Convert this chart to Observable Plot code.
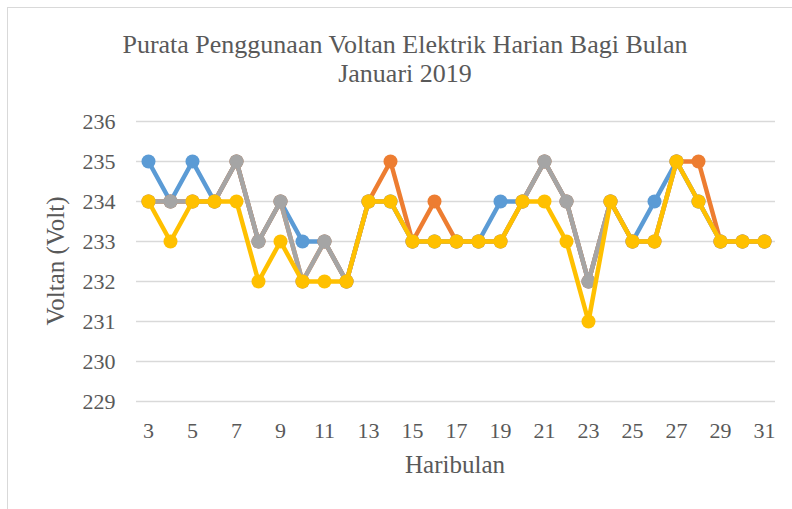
<!DOCTYPE html>
<html>
<head>
<meta charset="utf-8">
<script src="https://cdn.jsdelivr.net/npm/d3@7"></script>
<script src="https://cdn.jsdelivr.net/npm/@observablehq/plot@0.6"></script>
<style>
  html, body { margin: 0; padding: 0; background: #fff; }
  #wrap { position: relative; width: 792px; height: 509px; overflow: hidden; font-family: "Liberation Serif", "Tinos", "DejaVu Serif", "Times New Roman", serif; color: #595959; }
  #frame { position: absolute; left: 7px; top: 7px; width: 800px; height: 520px; border-left: 1.5px solid #d9d9d9; border-top: 1.5px solid #d9d9d9; }
  .t { position: absolute; white-space: nowrap; text-align: center; line-height: 30px; height: 30px; }
  #chart { position: absolute; left: 0; top: 0; }
  #chart svg text { font-family: "Liberation Serif", "Tinos", "DejaVu Serif", "Times New Roman", serif; }
</style>
</head>
<body>
<div id="wrap">
  <div id="frame"></div>
  <div id="chart"></div>
  <div class="t" id="title1" style="left:0;width:810px;top:30px;font-size:26px;">Purata Penggunaan Voltan Elektrik Harian Bagi Bulan</div>
  <div class="t" id="title2" style="left:0;width:810px;top:59px;font-size:26px;">Januari 2019</div>
  <div class="t" id="xtitle" style="left:355px;width:200px;top:450px;font-size:25px;">Haribulan</div>
  <div class="t" id="ytitle" style="left:-44px;width:200px;top:246px;font-size:25px;transform:rotate(-90deg);">Voltan (Volt)</div>
</div>
<script>
const days = [3,4,5,6,7,8,9,10,11,12,13,14,15,16,17,18,19,20,21,22,23,24,25,26,27,28,29,30,31];
const xTickLabels = [3,5,7,9,11,13,15,17,19,21,23,25,27,29,31];
const yTicks = [229,230,231,232,233,234,235,236];

const blue   = [235,234,235,234,235,233,234,233,233,232,234,234,233,233,233,233,234,234,235,234,232,234,233,234,235,234,233,233,233];
const orange = [234,234,234,234,235,233,234,232,233,232,234,235,233,234,233,233,233,234,235,234,232,234,233,233,235,235,233,233,233];
const gray   = [234,234,234,234,235,233,234,232,233,232,234,234,233,233,233,233,233,234,235,234,232,234,233,233,235,234,233,233,233];
const yellow = [234,233,234,234,234,232,233,232,232,232,234,234,233,233,233,233,233,234,234,233,231,234,233,233,235,234,233,233,233];

const seriesValues = [blue, orange, gray, yellow];
const seriesColors = ["#5B9BD5","#ED7D31","#A5A5A5","#FFC000"];

const marks = [
  Plot.gridY(yTicks, {stroke: "#d9d9d9", strokeOpacity: 1, strokeWidth: 1.3})
];
seriesValues.forEach((vals, i) => {
  const rows = days.map((d, j) => ({day: d, v: vals[j]}));
  marks.push(Plot.line(rows, {x: "day", y: "v", stroke: seriesColors[i], strokeWidth: 4.5, strokeLinejoin: "round", strokeLinecap: "round"}));
  marks.push(Plot.dot(rows, {x: "day", y: "v", r: 7, fill: seriesColors[i], stroke: "none"}));
});
marks.push(Plot.axisY(yTicks, {tickSize: 0, tickPadding: 21, fontSize: 22, fill: "#595959", label: null}));
marks.push(Plot.axisX(xTickLabels, {tickSize: 0, tickPadding: 21, fontSize: 22, fill: "#595959", label: null}));

const chart = Plot.plot({
  width: 792,
  height: 509,
  marginTop: 121,
  marginBottom: 108,
  marginLeft: 136,
  marginRight: 17,
  style: {background: "transparent", overflow: "visible"},
  x: {type: "point", domain: days, padding: 0.5},
  y: {domain: [229, 236]},
  marks
});
document.getElementById("chart").appendChild(chart);
</script>
</body>
</html>
